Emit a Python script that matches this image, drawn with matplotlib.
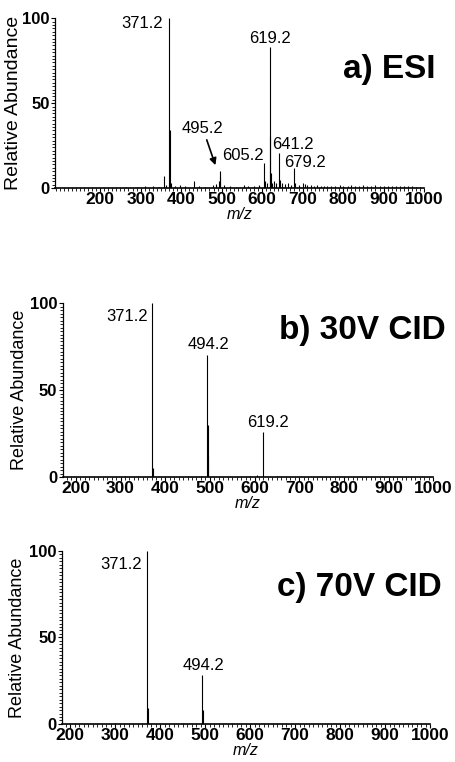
import matplotlib
matplotlib.use("Agg")
import matplotlib.pyplot as plt
from matplotlib.ticker import MultipleLocator

plt.rcParams['font.family'] = ['Liberation Sans', 'DejaVu Sans']

# panel a) ESI - m/z and relative abundance
esi_mz = [265, 290, 310, 330, 345, 358, 363, 371.2, 372.2, 375, 385, 398, 410, 433, 445,
          460, 478, 485, 493, 495.2, 497, 505, 520, 535, 555, 565, 580, 592, 605.2, 607,
          612, 619.2, 620.5, 621.5, 625, 630, 635, 641.2, 643, 650, 657, 665, 672, 679.2,
          681, 690, 700, 705, 712, 720, 728, 735, 745, 752, 760, 770, 780, 792, 800, 812,
          820, 830, 840, 850, 860, 870, 880, 890, 900, 910, 920, 930, 940, 950, 960, 970,
          980, 990]
esi_ab = [0.8, 1.0, 1.2, 1.5, 1.0, 7, 2, 100, 34, 3, 1.5, 2, 1.2, 4, 1.5,
          1.0, 2, 2.5, 4, 10, 7, 2, 1.5, 1.0, 2, 1.5, 1.5, 2, 15, 4,
          3, 83, 31, 9, 3, 4, 3, 21, 5, 3, 2.5, 3, 2, 12,
          3, 2, 3, 2.5, 2, 2, 1.5, 2, 1.5, 1.5, 1.5, 1.5, 1.5, 2, 1.5, 1.5,
          2, 1.5, 1.5, 2, 1.5, 1.5, 2, 1.5, 1.5, 1.5, 1.5, 1.5, 1.2, 1.2, 1.2, 1.2,
          1.0, 1.0]

# panel b) 30V CID
cid30_mz = [310, 340, 371.2, 372.5, 450, 480, 494.2, 495.2, 496.2, 590, 605, 619.2, 650]
cid30_ab = [0.8, 0.5, 100, 5, 0.5, 0.8, 70, 30, 12, 0.5, 1.2, 26, 0.3]

# panel c) 70V CID
cid70_mz = [300, 371.2, 372.5, 450, 494.2, 495.5, 560]
cid70_ab = [0.5, 100, 9, 0.4, 28, 8, 0.3]

# peak labels: (text, x, y, ha)
esi_labels = [("371.2", 355, 97, "right"), ("619.2", 619.2, 88, "center"),
              ("495.2", 452, 35, "center"), ("605.2", 553, 19.5, "center"),
              ("641.2", 677, 26, "center"), ("679.2", 706, 15, "center")]
cid30_labels = [("371.2", 362, 92.5, "right"), ("494.2", 498, 76, "center"),
                ("619.2", 631, 31.6, "center")]
cid70_labels = [("371.2", 360, 92, "right"), ("494.2", 497, 34, "center")]

fig = plt.figure(figsize=(4.56, 7.62), dpi=100)

panels = [
    ([0.121, 0.753, 0.809, 0.223], esi_mz, esi_ab, esi_labels, "a) ESI", 70, 89, -0.09, 14),
    ([0.138, 0.374, 0.812, 0.228], cid30_mz, cid30_ab, cid30_labels, "b) 30V CID", 84.5, 171, -0.095, 13),
    ([0.136, 0.050, 0.807, 0.227], cid70_mz, cid70_ab, cid70_labels, "c) 70V CID", 79, 182, -0.098, 13),
]

for rect, mz, ab, labels, title, ty, xmin, ylx, ylsize in panels:
    ax = fig.add_axes(rect)
    ax.vlines(mz, 0, ab, color="black", lw=0.8)
    ax.set_xlim(xmin, 1000)
    ax.set_ylim(0, 100)
    for s in ["top", "right"]:
        ax.spines[s].set_visible(False)
    ax.spines["left"].set_linewidth(0.9)
    ax.spines["bottom"].set_linewidth(1.2)
    ax.set_xticks([200, 300, 400, 500, 600, 700, 800, 900, 1000])
    ax.set_yticks([0, 50, 100])
    ax.xaxis.set_minor_locator(MultipleLocator(10))
    ax.yaxis.set_minor_locator(MultipleLocator(2))
    ax.tick_params(which="major", length=3, width=0.8, pad=1)
    ax.tick_params(axis="x", which="major", pad=0)
    ax.tick_params(which="minor", length=2, width=0.6)
    for t in ax.get_xticklabels():
        t.set_fontsize(12.5)
        t.set_fontweight("bold")
    for t in ax.get_yticklabels():
        t.set_fontsize(12)
        t.set_fontweight("bold")
    ax.set_ylabel("Relative Abundance", fontsize=ylsize)
    ax.yaxis.set_label_coords(ylx, 0.5)
    ax.set_xlabel("m/z", fontsize=11.5, style="italic", labelpad=0)
    for txt, x, y, ha in labels:
        ax.text(x, y, txt, ha=ha, va="center", fontsize=12)
    ax.text(1027, ty, title, ha="right", va="center", fontsize=24, fontweight="bold")

# arrow to 495.2 in panel a
fig.axes[0].annotate("", xy=(487, 12), xytext=(461, 30),
                     arrowprops=dict(arrowstyle="-|>", color="black", lw=1.2,
                                     mutation_scale=10))

fig.savefig("out.png", dpi=100)
